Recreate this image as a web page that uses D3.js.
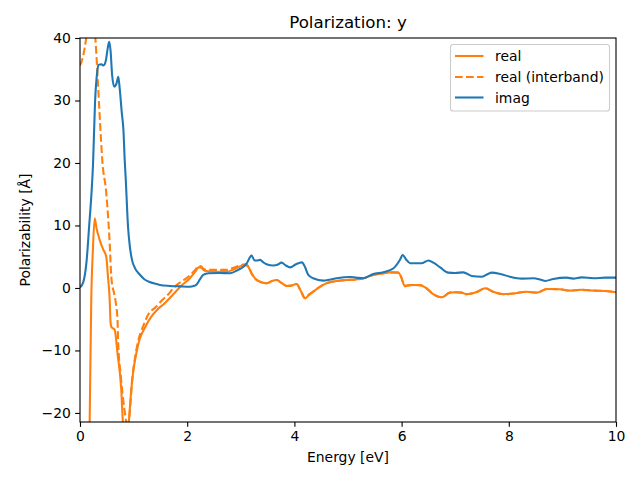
<!DOCTYPE html>
<html>
<head>
<meta charset="utf-8">
<script src="https://cdn.jsdelivr.net/npm/d3@7"></script>
<style>
  html, body { margin: 0; padding: 0; background: #fff; }
  svg { display: block; font-family: "DejaVu Sans", sans-serif; }
</style>
</head>
<body>
<svg id="chart" width="640" height="480"></svg>
<script>
// ---------- data ----------
const xTicks = [0, 2, 4, 6, 8, 10];
const yTicks = [-20, -10, 0, 10, 20, 30, 40];
const seriesNames = ["real", "real (interband)", "imag"];

const imagE = [0.00,0.06,0.125,0.17,0.218,0.243,0.28,0.32,0.345,0.40,0.44,0.48,0.52,0.545,0.57,0.60,0.64,0.68,0.715,0.74,0.78,0.81,0.834,0.853,0.896,0.93,0.97,1.03,1.11,1.20,1.30,1.39,1.49,1.68,1.87,2.05,2.12,2.18,2.24,2.30,2.40,2.60,2.80,2.95,3.05,3.11,3.20,3.26,3.30,3.36,3.42,3.48,3.61,3.68,3.76,3.84,3.92,4.03,4.14,4.20,4.26,4.35,4.54,4.65,4.79,5.04,5.15,5.29,5.47,5.66,5.85,5.97,6.02,6.08,6.16,6.37,6.50,6.60,6.72,6.87,7.00,7.15,7.31,7.49,7.60,7.68,7.84,8.02,8.24,8.46,8.60,8.68,8.83,9.08,9.20,9.36,9.58,9.80,10.0];
const imagV = [0.1,0.9,4.5,9.8,15.7,19.8,29.6,34.5,35.7,35.8,35.6,36.3,38.5,39.4,38.0,34.0,32.2,32.7,33.8,32.0,28.0,25.3,20.5,17.5,9.8,6.6,4.5,3.1,2.2,1.4,0.95,0.7,0.48,0.32,0.25,0.2,0.3,0.6,1.4,2.1,2.35,2.4,2.35,2.9,3.4,3.95,5.17,4.4,4.4,4.5,4.1,3.8,3.6,3.7,4.05,3.6,3.3,3.8,4.1,3.3,2.08,1.55,1.17,1.3,1.55,1.76,1.65,1.55,2.24,2.5,3.15,4.5,5.28,4.6,3.95,3.95,4.4,4.0,3.3,2.45,2.4,2.5,1.92,1.8,2.2,2.45,2.24,1.8,1.5,1.55,1.3,1.12,1.44,1.65,1.5,1.7,1.55,1.65,1.65];

const realE = [0.15,0.18,0.21,0.24,0.274,0.31,0.367,0.43,0.49,0.52,0.554,0.57,0.584,0.62,0.647,0.70,0.77,0.80,0.85,0.91,0.95,0.99,1.05,1.11,1.22,1.33,1.45,1.58,1.74,1.87,2.05,2.15,2.21,2.25,2.30,2.36,2.50,2.74,2.85,2.95,3.08,3.14,3.20,3.28,3.36,3.48,3.58,3.67,3.76,3.86,3.95,4.04,4.12,4.20,4.27,4.35,4.48,4.60,4.78,4.98,5.15,5.29,5.47,5.62,5.78,5.94,5.99,6.06,6.15,6.25,6.34,6.44,6.59,6.75,6.90,7.00,7.12,7.21,7.40,7.56,7.72,7.90,8.12,8.33,8.52,8.71,8.95,9.14,9.36,9.58,9.80,10.0];
const realV = [-60,-21.5,-1.9,6.0,11.15,9.5,7.7,6.2,5.0,2.0,-1.9,-5.5,-6.2,-6.5,-6.7,-10.5,-16.3,-21.5,-25,-21.5,-17,-13.6,-10.5,-8.3,-6.2,-4.6,-3.4,-2.45,-1.0,0.2,1.55,2.6,3.3,3.3,2.9,2.7,2.6,2.6,2.9,3.3,3.7,3.4,2.35,1.4,1.0,0.75,1.1,1.28,0.8,0.32,0.4,0.64,-0.5,-1.65,-1.1,-0.6,0.2,0.75,1.1,1.28,1.35,1.55,2.08,2.3,2.5,2.45,1.8,0.3,0.45,0.48,0.45,0.1,-1.0,-1.5,-0.75,-0.7,-0.75,-1.0,-0.65,-0.05,-0.65,-1.0,-0.85,-0.6,-0.75,-0.16,-0.2,-0.43,-0.3,-0.43,-0.5,-0.7];

const interE = [0.00,0.05,0.118,0.16,0.20,0.25,0.286,0.336,0.386,0.416,0.49,0.554,0.584,0.60,0.63,0.67,0.70,0.71,0.76,0.83,0.864,0.89,0.927,0.97,1.03,1.10,1.175,1.27,1.42,1.55,1.64,1.74,2.05,2.15,2.21,2.25,2.30,2.36,2.50,2.74,2.85,2.95,3.08,3.14,3.20,3.28,3.36,3.48,3.58,3.67,3.76,3.86,3.95,4.04,4.12,4.20,4.27,4.35,4.48,4.60,4.78,4.98,5.15,5.29,5.47,5.62,5.78,5.94,5.99,6.06,6.15,6.25,6.34,6.44,6.59,6.75,6.90,7.00,7.12,7.21,7.40,7.56,7.72,7.90,8.12,8.33,8.52,8.71,8.95,9.14,9.36,9.58,9.80,10.0];
const interV = [35.6,36.8,40.1,43,44,43,40,32.6,24.6,20.4,15.2,7.15,1.8,0.5,-0.6,-2.5,-5.1,-8.3,-14,-19.5,-21.5,-22.5,-20,-15,-11,-8,-6.2,-4.3,-3.0,-1.8,-1.1,-0.05,2.0,2.9,3.5,3.5,3.1,2.9,2.9,2.9,3.2,3.5,3.8,3.5,2.35,1.4,1.0,0.75,1.1,1.28,0.8,0.32,0.4,0.64,-0.5,-1.65,-1.1,-0.6,0.2,0.75,1.1,1.28,1.35,1.55,2.08,2.3,2.5,2.45,1.8,0.3,0.45,0.48,0.45,0.1,-1.0,-1.5,-0.75,-0.7,-0.75,-1.0,-0.65,-0.05,-0.65,-1.0,-0.85,-0.6,-0.75,-0.16,-0.2,-0.43,-0.3,-0.43,-0.5,-0.7];

// ---------- layout ----------
const L = 80, R = 616, T = 38, B = 422;
const svg = d3.select("#chart");
const x = d3.scaleLinear().domain([0, 10]).range([L, R]);
const y = d3.scaleLinear().domain([-21.45, 40]).range([B, T]);

svg.append("defs").append("clipPath").attr("id", "clip")
  .append("rect").attr("x", L).attr("y", T).attr("width", R - L).attr("height", B - T);

const line = d3.line().x(d => x(d[0])).y(d => y(d[1])).curve(d3.curveMonotoneX);
const zip = (a, b) => a.map((v, i) => [v, b[i]]);

const orange = "#ff7f0e", blue = "#1f77b4";
const series = [
  { name: seriesNames[0], data: zip(realE, realV), color: orange, dash: null },
  { name: seriesNames[1], data: zip(interE, interV), color: orange, dash: "7.7,3.3" },
  { name: seriesNames[2], data: zip(imagE, imagV), color: blue, dash: null }
];

const plot = svg.append("g").attr("clip-path", "url(#clip)");
series.forEach(s => {
  plot.append("path").datum(s.data)
    .attr("d", line)
    .attr("fill", "none")
    .attr("stroke", s.color)
    .attr("stroke-width", 2.08)
    .attr("stroke-linejoin", "round")
    .attr("stroke-dasharray", s.dash);
});

// axes
const fmt = d => (d < 0 ? "\u2212" + Math.abs(d) : String(d));
const xAxis = svg.append("g").attr("transform", `translate(0,${B})`)
  .call(d3.axisBottom(x).tickValues(xTicks).tickFormat(fmt).tickSizeOuter(0).tickSize(4.86).tickPadding(4.5));
const yAxis = svg.append("g").attr("transform", `translate(${L},0)`)
  .call(d3.axisLeft(y).tickValues(yTicks).tickFormat(fmt).tickSizeOuter(0).tickSize(4.86).tickPadding(4.3));
[xAxis, yAxis].forEach(g => {
  g.select(".domain").remove();
  g.selectAll(".tick line").attr("stroke", "#000").attr("stroke-width", 1.1);
  g.selectAll(".tick text").attr("fill", "#000").attr("font-size", 13.9)
    .attr("font-family", "DejaVu Sans");
});

// frame
svg.append("rect").attr("x", L).attr("y", T).attr("width", R - L).attr("height", B - T)
  .attr("fill", "none").attr("stroke", "#000").attr("stroke-width", 1.1);

// title and labels
svg.append("text").attr("x", (L + R) / 2).attr("y", 28).attr("text-anchor", "middle")
  .attr("font-size", 16.67).text("Polarization: y");
svg.append("text").attr("x", (L + R) / 2).attr("y", 462).attr("text-anchor", "middle")
  .attr("font-size", 13.9).text("Energy [eV]");
svg.append("text").attr("transform", `translate(30,${(T + B) / 2}) rotate(-90)`)
  .attr("text-anchor", "middle").attr("font-size", 13.9).text("Polarizability [Å]");

// legend
const lg = svg.append("g");
lg.append("rect").attr("x", 450.5).attr("y", 44.5).attr("width", 159).attr("height", 66.5)
  .attr("rx", 2.8).attr("fill", "#fff").attr("fill-opacity", 0.8)
  .attr("stroke", "#cccccc").attr("stroke-width", 1.1);
const rows = [56, 77, 97.5];
series.forEach((s, i) => {
  lg.append("line").attr("x1", 455).attr("x2", 483.5).attr("y1", rows[i]).attr("y2", rows[i])
    .attr("stroke", s.color).attr("stroke-width", 2.08).attr("stroke-dasharray", s.dash);
  lg.append("text").attr("x", 495).attr("y", rows[i] + 5).attr("font-size", 13.9).text(s.name);
});
</script>
</body>
</html>
